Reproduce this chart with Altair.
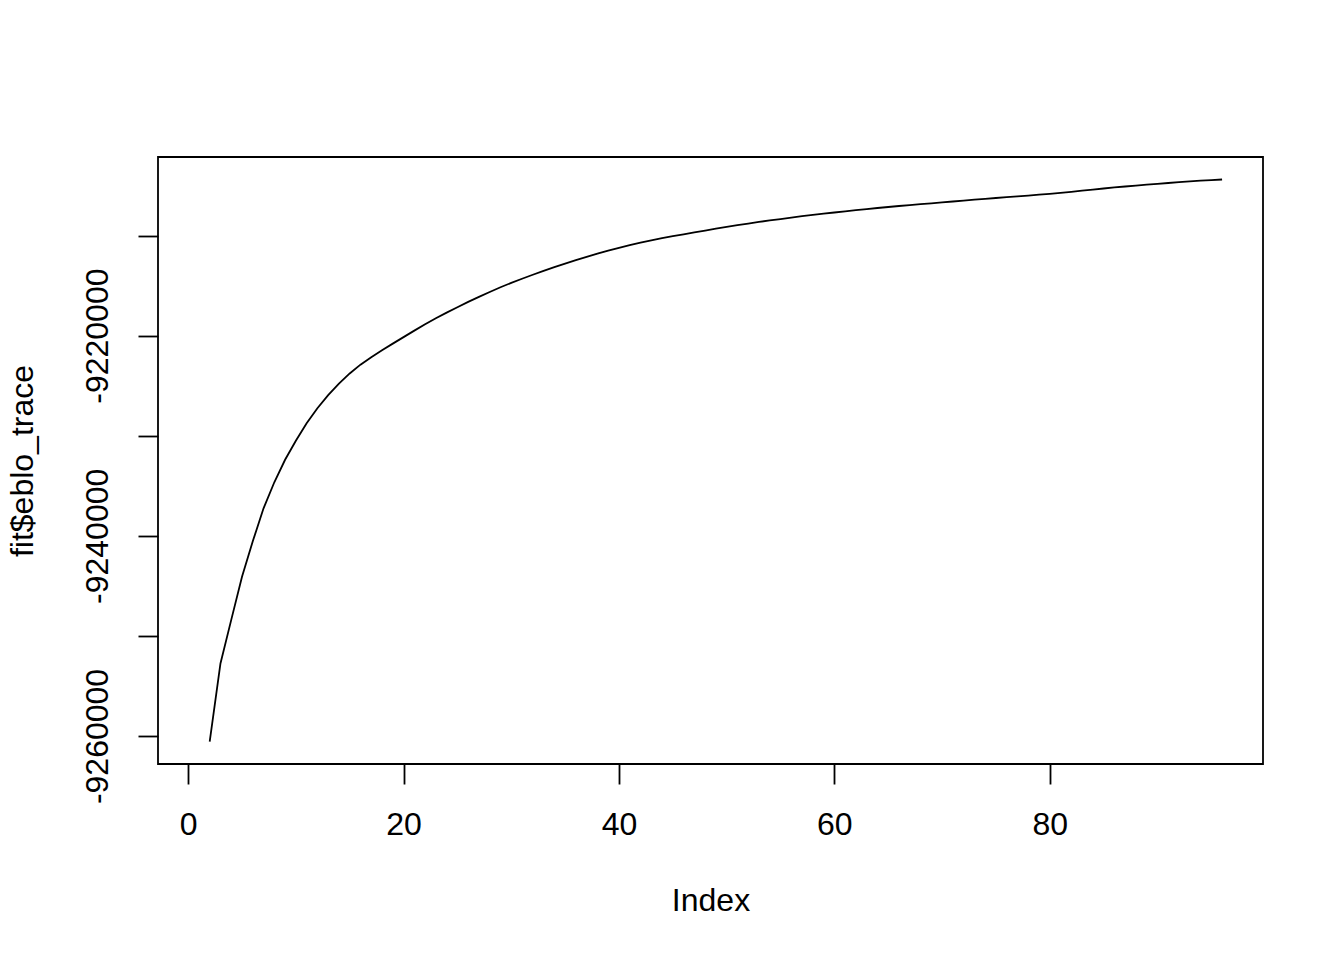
import altair as alt
import pandas as pd

# Index positions (first index 1 has no drawn value; line starts at 2)
index = list(range(2, 97))
elbo_trace = [
    -9260550, -9252750, -9248400, -9244100, -9240550, -9237250, -9234650, -9232400,
    -9230500, -9228750, -9227250, -9225950, -9224800, -9223780, -9222900, -9222150,
    -9221450, -9220800, -9220150, -9219500, -9218870, -9218260, -9217700, -9217170,
    -9216630, -9216130, -9215640, -9215170, -9214730, -9214320, -9213920, -9213530,
    -9213160, -9212800, -9212460, -9212130, -9211810, -9211510, -9211230, -9210960,
    -9210710, -9210480, -9210270, -9210070, -9209880, -9209690, -9209500, -9209320,
    -9209140, -9208970, -9208800, -9208640, -9208490, -9208350, -9208210, -9208070,
    -9207940, -9207820, -9207700, -9207580, -9207470, -9207360, -9207250, -9207150,
    -9207050, -9206960, -9206870, -9206780, -9206690, -9206600, -9206510, -9206420,
    -9206330, -9206250, -9206170, -9206090, -9206010, -9205920, -9205830, -9205730,
    -9205630, -9205520, -9205410, -9205300, -9205190, -9205100, -9205010, -9204920,
    -9204830, -9204750, -9204670, -9204590, -9204520, -9204460, -9204400,
]
x_ticks = [0, 20, 40, 60, 80]
y_ticks = [-9260000, -9250000, -9240000, -9230000, -9220000, -9210000]

df = pd.DataFrame({"Index": index, "elbo": elbo_trace})

# R-style 4% axis extension
x_lo, x_hi = 1, 96
x_ext = 0.04 * (x_hi - x_lo)
y_lo, y_hi = min(elbo_trace), max(elbo_trace)
y_ext = 0.04 * (y_hi - y_lo)

FONT = "Liberation Sans"
W, H = 1105, 607

chart = alt.Chart(df).mark_line(color="black", strokeWidth=1.8).encode(
    x=alt.X(
        "Index:Q",
        scale=alt.Scale(domain=[x_lo - x_ext, x_hi + x_ext], nice=False, zero=False),
        axis=alt.Axis(
            values=x_ticks, grid=False, domain=False,
            tickSize=20, tickColor="black", tickWidth=1.8,
            labelFont=FONT, labelFontSize=32, labelColor="black",
            labelBaseline="alphabetic", labelPadding=50,
            title="Index", titleFont=FONT, titleFontSize=32, titleFontWeight="normal",
            titleColor="black", titleX=W / 2, titleY=146,
            titleBaseline="alphabetic", titleAlign="center",
        ),
    ),
    y=alt.Y(
        "elbo:Q",
        scale=alt.Scale(domain=[y_lo - y_ext, y_hi + y_ext], nice=False, zero=False),
        axis=alt.Axis(
            values=y_ticks, grid=False, domain=False,
            tickSize=20, tickColor="black", tickWidth=1.8,
            labelFont=FONT, labelFontSize=32, labelColor="black",
            labelAngle=-90, labelAlign="center", labelBaseline="alphabetic",
            labelPadding=31,
            labelExpr="datum.value % 20000 == 0 ? '' + datum.value : ''",
            title="fit$eblo_trace", titleFont=FONT, titleFontSize=32,
            titleFontWeight="normal", titleColor="black",
            titleAngle=-90, titleX=-126, titleY=H / 2,
            titleBaseline="alphabetic", titleAlign="center",
        ),
    ),
).properties(
    width=W,
    height=H,
    background="white",
    autosize=alt.AutoSizeParams(type="none"),
    padding={"left": 150, "top": 149, "right": 73, "bottom": 188},
).configure_view(
    stroke="black", strokeWidth=1.8, fill="white"
)

chart.save("out.html", embed_options={"renderer": "svg", "actions": False})
